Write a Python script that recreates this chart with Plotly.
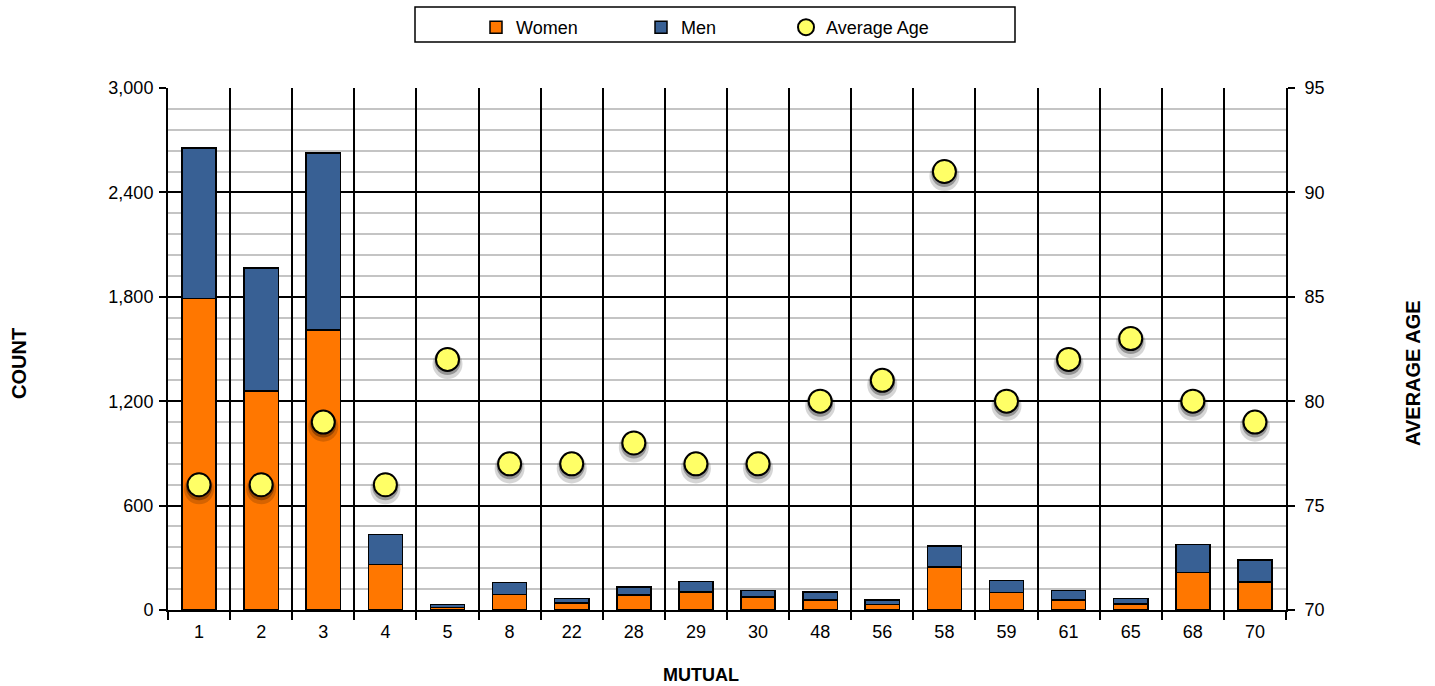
import plotly.graph_objects as go

mutual = ["1", "2", "3", "4", "5", "8", "22", "28", "29", "30",
          "48", "56", "58", "59", "61", "65", "68", "70"]
women = [1790, 1260, 1610, 262, 14, 90, 40, 85, 104, 75,
         57, 32, 246, 101, 58, 35, 216, 162]
men = [865, 706, 1016, 171, 18, 67, 27, 46, 61, 38,
       46, 25, 122, 69, 53, 31, 161, 124]
avg_age = [76, 76, 79, 76, 82, 77, 77, 78, 77, 77,
           80, 81, 91, 80, 82, 83, 80, 79]

FONT = "Liberation Sans, Arial, sans-serif"
W, H = 1435, 686
L, R, T, B = 168, 149, 88, 76
pw, ph = W - L - R, H - T - B

fig = go.Figure()
fig.add_trace(go.Bar(x=mutual, y=women, name="Women", legend="legend",
                     marker=dict(color="#FF7700", line=dict(color="black", width=1.5))))
fig.add_trace(go.Bar(x=mutual, y=men, name="Men", legend="legend",
                     marker=dict(color="#386094", line=dict(color="black", width=1.5))))
# soft shadow under the markers
fig.add_trace(go.Scatter(x=mutual, y=[a - 0.22 for a in avg_age], yaxis="y2",
                         mode="markers", showlegend=False, hoverinfo="skip",
                         marker=dict(size=30, color="rgba(0,0,0,0.16)", line=dict(width=0))))
fig.add_trace(go.Scatter(x=mutual, y=[a - 0.12 for a in avg_age], yaxis="y2",
                         mode="markers", showlegend=False, hoverinfo="skip",
                         marker=dict(size=26, color="rgba(0,0,0,0.3)", line=dict(width=0))))
fig.add_trace(go.Scatter(x=mutual, y=avg_age, yaxis="y2", mode="markers",
                         name="Average Age", legend="legend2",
                         marker=dict(size=23, color="#FFFF66",
                                     line=dict(color="black", width=2))))

leg_common = dict(orientation="h", xref="container", yref="container",
                  y=1 - 9 / H, yanchor="top", xanchor="left",
                  font=dict(size=18, family=FONT), bgcolor="rgba(0,0,0,0)")

fig.update_layout(
    width=W, height=H,
    margin=dict(l=L, r=R, t=T, b=B, autoexpand=False),
    paper_bgcolor="white", plot_bgcolor="white",
    font=dict(family=FONT, size=18, color="black"),
    barmode="stack", bargap=0.45,
    showlegend=True,
    legend=dict(**leg_common, x=476 / W, entrywidth=120, traceorder="normal"),
    legend2=dict(**leg_common, x=786 / W),
    xaxis=dict(type="category", range=[-0.5, len(mutual) - 0.5],
               tickson="boundaries", showgrid=True,
               gridcolor="black", gridwidth=1.5, ticks="outside", ticklen=8,
               tickwidth=1.5, tickcolor="black", showline=True, linecolor="black",
               linewidth=2, tickfont=dict(size=18), ticklabelstandoff=4),
    yaxis=dict(range=[0, 3000], dtick=600, tickformat=",", showgrid=True,
               gridcolor="black", gridwidth=1.5, ticks="outside", ticklen=7,
               tickwidth=1.5, tickcolor="black", showline=True, linecolor="black",
               linewidth=2, zeroline=False, tickfont=dict(size=18),
               ticklabelstandoff=2,
               minor=dict(dtick=120, showgrid=True, gridcolor="#C4C4C4",
                          gridwidth=1.5, ticks="")),
    yaxis2=dict(range=[70, 95], dtick=5, overlaying="y", side="right",
                showgrid=False, ticks="outside", ticklen=7, tickwidth=1.5,
                tickcolor="black", showline=True, linecolor="black",
                linewidth=2, zeroline=False, tickfont=dict(size=18),
                ticklabelstandoff=6),
)

# legend box
fig.add_shape(type="rect", xref="paper", yref="paper",
              x0=(415 - L) / pw, x1=(1015 - L) / pw,
              y0=(H - B - 42) / ph, y1=(H - B - 7) / ph,
              line=dict(color="black", width=1.5), fillcolor="rgba(0,0,0,0)",
              layer="above")

# axis titles
fig.add_annotation(text="<b>COUNT</b>", xref="paper", yref="paper",
                   x=(19 - L) / pw, y=(H - B - 364) / ph, textangle=-90,
                   xanchor="center", yanchor="middle",
                   showarrow=False, font=dict(size=20, family=FONT))
fig.add_annotation(text="<b>AVERAGE AGE</b>", xref="paper", yref="paper",
                   x=(1413 - L) / pw, y=(H - B - 373) / ph, textangle=-90,
                   xanchor="center", yanchor="middle",
                   showarrow=False, font=dict(size=20, family=FONT))
fig.add_annotation(text="<b>MUTUAL</b>", xref="paper", yref="paper",
                   x=(701 - L) / pw, y=(H - B - 675) / ph,
                   xanchor="center", yanchor="middle",
                   showarrow=False, font=dict(size=18, family=FONT))

fig.write_html("out.html", config={"displayModeBar": False})
with open("out.html", encoding="utf-8") as f:
    html = f.read()
html = html.replace("<body>", '<body style="margin:0;padding:0;overflow:hidden">', 1)
with open("out.html", "w", encoding="utf-8") as f:
    f.write(html)
